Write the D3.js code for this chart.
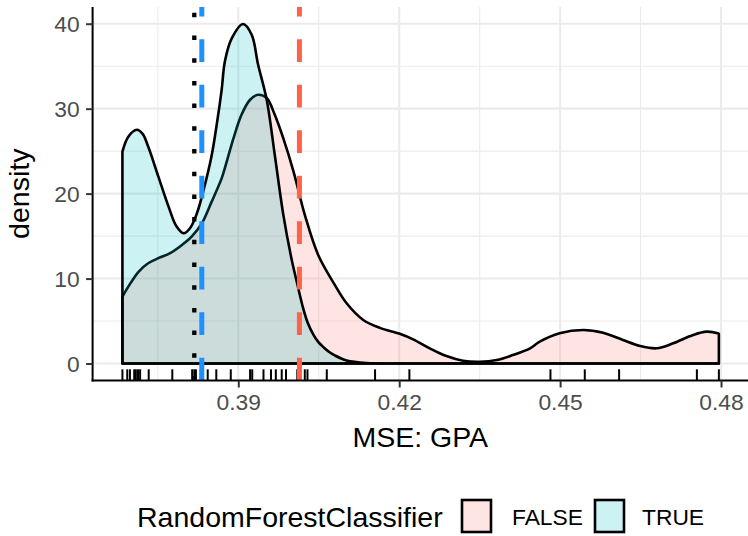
<!DOCTYPE html>
<html>
<head>
<meta charset="utf-8">
<script src="https://cdn.jsdelivr.net/npm/d3@7"></script>
<style>
  html, body { margin: 0; padding: 0; background: #ffffff; }
  svg { display: block; font-family: "Liberation Sans", Arial, Helvetica, sans-serif; }
</style>
</head>
<body>
<svg id="chart" width="748" height="536"></svg>
<script>
// ---------------- DATA ----------------
const groups = ["FALSE", "TRUE"];
const groupColors = ["#F8766D", "#00BFC4"];
const legendTitle = "RandomForestClassifier";
const xTitle = "MSE: GPA";
const yTitle = "density";
const xTicks = [0.39, 0.42, 0.45, 0.48];
const xMinorTicks = [0.375, 0.405, 0.435, 0.465];
const yTicks = [0, 10, 20, 30, 40];
const yMinorTicks = [5, 15, 25, 35];

// density of FALSE group
const falseX = [0.3684, 0.3695, 0.3714, 0.3732, 0.3751, 0.3773, 0.3795, 0.3813, 0.3832, 0.3850,
  0.3869, 0.3875, 0.3891, 0.3906, 0.3922, 0.3937, 0.3953, 0.3968, 0.3984, 0.4003,
  0.4024, 0.4049, 0.4080, 0.4102, 0.4133, 0.4164, 0.4201, 0.4226, 0.4257, 0.4288,
  0.4319, 0.4350, 0.4382, 0.4412, 0.4444, 0.4462, 0.4499, 0.4543, 0.4580, 0.4617,
  0.4649, 0.4680, 0.4711, 0.4748, 0.4773, 0.4794, 0.4796];
const falseY = [7.87, 9.05, 10.8, 11.8, 12.4, 13.0, 13.96, 14.94, 16.5, 19.0,
  21.8, 23.0, 26.5, 29.28, 31.05, 31.63, 31.25, 29.28, 26.5, 22.6,
  17.5, 12.78, 9.25, 7.09, 5.13, 4.2, 3.5, 2.85, 1.79, 0.88,
  0.33, 0.21, 0.41, 1.0, 1.79, 2.57, 3.56, 3.95, 3.63, 2.77,
  2.06, 1.79, 2.38, 3.36, 3.75, 3.56, 3.5];

// density of TRUE group
const trueX = [0.3684, 0.3695, 0.3711, 0.3722, 0.3732, 0.3751, 0.3770, 0.3785, 0.3798, 0.3810,
  0.3823, 0.3835, 0.3850, 0.3860, 0.3869, 0.3875, 0.3888, 0.3909, 0.3925, 0.3937,
  0.3953, 0.3968, 0.3984, 0.3999, 0.4009, 0.4021, 0.4030, 0.4040, 0.4049, 0.4062,
  0.4071, 0.4080, 0.4102, 0.4140, 0.4200, 0.4300, 0.4796];
const trueY = [24.95, 26.7, 27.51, 27.0, 25.54, 22.0, 18.47, 16.12, 15.34, 15.93,
  17.70, 20.35, 24.37, 28.2, 32.22, 35.56, 38.3, 39.97, 38.7, 35.17,
  31.05, 24.57, 17.5, 12.4, 9.64, 6.5, 4.7, 3.4, 2.55, 1.75,
  1.3, 0.95, 0.35, 0.05, 0, 0, 0];

// rug observations
const rugX = [0.3684, 0.3693, 0.3698, 0.3706, 0.3709, 0.3713, 0.3717, 0.3733, 0.3777, 0.3814,
  0.3818, 0.3821, 0.3830, 0.3843, 0.3859, 0.3886, 0.3922, 0.3926, 0.3947, 0.3961,
  0.3970, 0.3981, 0.3989, 0.4010, 0.4024, 0.4029, 0.4065, 0.4155, 0.4219, 0.4482,
  0.4546, 0.4610, 0.4755, 0.4796];

// reference lines
const vlineX = [0.3818, 0.3832, 0.4014];
const vlineColor = ["#000000", "#1E90FF", "#FF6347"];
const vlineType = ["dotted", "dashed", "dashed"];

// ---------------- LAYOUT ----------------
const svg = d3.select("#chart");
const panel = { left: 92.6, right: 748.7, top: 7, bottom: 380.5 };

const xMin = d3.min(rugX), xMax = d3.max(rugX);
const xPad = (xMax - xMin) * 0.05;
const x = d3.scaleLinear().domain([xMin - xPad, xMax + xPad]).range([panel.left, panel.right]);
const yMax = Math.max(d3.max(falseY), d3.max(trueY));
const y = d3.scaleLinear().domain([-yMax * 0.05, yMax * 1.05]).range([panel.bottom, panel.top]);

const gridColor = "#EBEBEB";
const g = svg.append("g");

// minor grid
g.selectAll(".xminor").data(xMinorTicks).enter().append("line")
  .attr("x1", d => x(d)).attr("x2", d => x(d))
  .attr("y1", panel.top).attr("y2", panel.bottom)
  .attr("stroke", gridColor).attr("stroke-width", 1.1);
g.selectAll(".yminor").data(yMinorTicks).enter().append("line")
  .attr("y1", d => y(d)).attr("y2", d => y(d))
  .attr("x1", panel.left).attr("x2", panel.right)
  .attr("stroke", gridColor).attr("stroke-width", 1.1);
// major grid
g.selectAll(".xmajor").data(xTicks).enter().append("line")
  .attr("x1", d => x(d)).attr("x2", d => x(d))
  .attr("y1", panel.top).attr("y2", panel.bottom)
  .attr("stroke", gridColor).attr("stroke-width", 2.1);
g.selectAll(".ymajor").data(yTicks).enter().append("line")
  .attr("y1", d => y(d)).attr("y2", d => y(d))
  .attr("x1", panel.left).attr("x2", panel.right)
  .attr("stroke", gridColor).attr("stroke-width", 2.1);

// densities
const series = [
  { key: groups[0], xs: falseX, ys: falseY, color: groupColors[0] },
  { key: groups[1], xs: trueX, ys: trueY, color: groupColors[1] }
];
const area = d3.area()
  .x(d => x(d[0])).y0(y(0)).y1(d => Math.min(y(0), y(d[1])))
  .curve(d3.curveCatmullRom.alpha(0.5));
series.forEach(s => {
  const pts = s.xs.map((v, i) => [v, s.ys[i]]);
  g.append("path").datum(pts)
    .attr("d", area)
    .attr("fill", s.color).attr("fill-opacity", 0.2)
    .attr("stroke", "#000").attr("stroke-width", 2.6)
    .attr("stroke-linejoin", "round");
});

// rug
const rugLen = (panel.bottom - panel.top) * 0.03;
g.selectAll(".rug").data(rugX).enter().append("line")
  .attr("x1", d => x(d)).attr("x2", d => x(d))
  .attr("y1", panel.bottom).attr("y2", panel.bottom - rugLen)
  .attr("stroke", "#000").attr("stroke-width", 2);

// vertical reference lines (drawn bottom -> top like ggplot)
vlineX.forEach((v, i) => {
  const dotted = vlineType[i] === "dotted";
  g.append("line")
    .attr("x1", x(v)).attr("x2", x(v))
    .attr("y1", panel.bottom).attr("y2", panel.top)
    .attr("stroke", vlineColor[i])
    .attr("stroke-width", dotted ? 4.3 : 5)
    .attr("stroke-dasharray", dotted ? "4.5,18.2" : "22.7,22.8");
});

// axes
const xAxis = d3.axisBottom(x).tickValues(xTicks).tickFormat(d3.format(".2f"))
  .tickSize(7).tickSizeOuter(0).tickPadding(5);
const gx = svg.append("g").attr("transform", `translate(0,${panel.bottom})`).call(xAxis);
gx.select(".domain").attr("stroke", "#000").attr("stroke-width", 2)
  .attr("d", `M${panel.left - 1},0H${748}`);
gx.selectAll(".tick line").attr("stroke", "#333").attr("stroke-width", 2);
gx.selectAll(".tick text").attr("fill", "#4D4D4D").attr("font-size", 22.8)
  .attr("font-family", "'Liberation Sans', Arial, sans-serif")
  .attr("y", 29.5).attr("dy", 0);

const yAxis = d3.axisLeft(y).tickValues(yTicks).tickFormat(d3.format("d"))
  .tickSize(6.5).tickSizeOuter(0).tickPadding(6);
const gy = svg.append("g").attr("transform", `translate(${panel.left},0)`).call(yAxis);
gy.select(".domain").attr("stroke", "#000").attr("stroke-width", 2)
  .attr("d", `M0,${panel.top}V${panel.bottom + 1}`);
gy.selectAll(".tick line").attr("stroke", "#333").attr("stroke-width", 2);
gy.selectAll(".tick text").attr("fill", "#4D4D4D").attr("font-size", 22.8)
  .attr("font-family", "'Liberation Sans', Arial, sans-serif")
  .attr("x", -13).attr("dy", "0.36em");

// axis titles
svg.append("text").attr("x", (panel.left + 748) / 2).attr("y", 447)
  .attr("text-anchor", "middle").attr("font-size", 28.5).attr("fill", "#000")
  .text(xTitle);
svg.append("text")
  .attr("transform", `translate(29,${(panel.top + panel.bottom) / 2}) rotate(-90)`)
  .attr("text-anchor", "middle").attr("font-size", 28.5).attr("fill", "#000")
  .text(yTitle);

// legend
const lg = svg.append("g");
lg.append("text").attr("x", 137).attr("y", 526.5)
  .attr("font-size", 28.5).attr("fill", "#000").text(legendTitle);
const keyX = [462, 595];
const labelX = [512, 642];
groups.forEach((grp, i) => {
  lg.append("rect").attr("x", keyX[i]).attr("y", 500).attr("width", 29).attr("height", 32)
    .attr("fill", "#fff");
  lg.append("rect").attr("x", keyX[i]).attr("y", 500).attr("width", 29).attr("height", 32)
    .attr("fill", groupColors[i]).attr("fill-opacity", 0.2)
    .attr("stroke", "#000").attr("stroke-width", 2.6);
  lg.append("text").attr("x", labelX[i]).attr("y", 524.5)
    .attr("font-size", 22.8).attr("fill", "#000").text(grp);
});
</script>
</body>
</html>
